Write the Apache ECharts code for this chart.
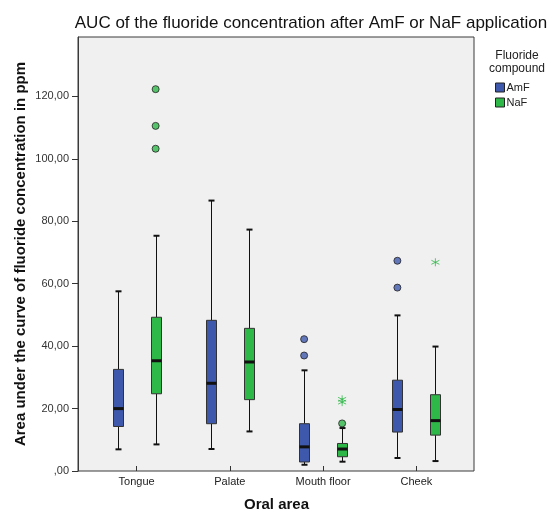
<!DOCTYPE html>
<html>
<head>
<meta charset="utf-8">
<script src="https://cdn.jsdelivr.net/npm/echarts@6/dist/echarts.min.js"></script>
<style>
  html, body { margin: 0; padding: 0; background: #fff; }
  #chart { width: 556px; height: 517px; }
</style>
</head>
<body>
<div id="chart"></div>
<script>
// oral areas on the x axis
const categories = ["Tongue", "Palate", "Mouth floor", "Cheek"];
const yTicks = [0, 20, 40, 60, 80, 100, 120];

// box stats per area: [lower whisker, Q1, median, Q3, upper whisker]
const amfBoxes = [
  [5.4, 12.8, 18.6, 31.3, 56.6],
  [5.5, 13.7, 26.8, 47.2, 86.0],
  [0.4, 1.3, 6.2, 13.7, 31.0],
  [2.6, 11.0, 18.3, 27.8, 48.8]
];
const nafBoxes = [
  [7.0, 23.4, 34.1, 48.2, 74.6],
  [11.2, 21.5, 33.7, 44.6, 76.6],
  [1.4, 3.0, 5.5, 7.3, 12.3],
  [1.6, 10.0, 14.7, 23.1, 38.7]
];

// outliers (circles) and extremes (stars): [area index, value]
const amfOutliers = [[2, 41.1], [2, 35.8], [3, 66.5], [3, 57.8]];
const nafOutliers = [[0, 122.1], [0, 110.2], [0, 102.8], [2, 13.8]];
const nafExtremes = [[2, 21.6], [2, 20.7], [3, 66.0]];

const AMF_COLOR = "#3e58ac";
const NAF_COLOR = "#2eb848";
const STAR = "path://M0,-5L0,5M-4.33,-2.5L4.33,2.5M-4.33,2.5L4.33,-2.5";

function boxSeries(name, boxes, color, offset) {
  return {
    name: name,
    type: "custom",
    xAxisIndex: 1,
    yAxisIndex: 1,
    itemStyle: { color: color },
    encode: { x: 0, y: [1, 2, 3, 4, 5] },
    data: boxes.map((b, i) => [i].concat(b)),
    renderItem: function (params, api) {
      const c = api.value(0);
      const pt = (v) => api.coord([c, v]);
      const x = Math.round(pt(0)[0] + offset) + 0.5;
      const lo = pt(api.value(1))[1];
      const q1 = pt(api.value(2))[1];
      const md = pt(api.value(3))[1];
      const q3 = pt(api.value(4))[1];
      const hi = pt(api.value(5))[1];
      const hw = 5, cw = 3;
      const line = (x1, y1, x2, y2, w) => ({
        type: "line",
        shape: { x1: x1, y1: y1, x2: x2, y2: y2 },
        style: { stroke: "#111", lineWidth: w }
      });
      return {
        type: "group",
        children: [
          line(x, hi, x, q3, 1),
          line(x, q1, x, lo, 1),
          line(x - cw, hi, x + cw, hi, 2),
          line(x - cw, lo, x + cw, lo, 2),
          {
            type: "rect",
            shape: { x: x - hw, y: q3, width: hw * 2, height: q1 - q3 },
            style: { fill: color, stroke: "#333", lineWidth: 1 }
          },
          line(x - hw, md, x + hw, md, 3)
        ]
      };
    }
  };
}

function pointSeries(name, data, color, offset, symbol, size, border) {
  return {
    name: name,
    type: "scatter",
    xAxisIndex: 1,
    yAxisIndex: 1,
    symbol: symbol,
    symbolSize: size,
    symbolOffset: [offset, 0],
    itemStyle: border
      ? { color: color, borderColor: "#222", borderWidth: 1 }
      : { color: "none", borderColor: color, borderWidth: 1 },
    data: data,
    z: 3
  };
}

const chart = echarts.init(document.getElementById("chart"));
chart.setOption({
  animation: false,
  textStyle: { fontFamily: "Liberation Sans, Arial, sans-serif" },
  title: [
    {
      text: "AUC of the fluoride concentration after AmF or NaF application",
      left: 306,
      top: 10,
      textAlign: "center",
      textStyle: { fontSize: 17, fontWeight: "normal", color: "#111" }
    },
    {
      text: "Fluoride\ncompound",
      left: 512,
      top: 44,
      textAlign: "center",
      textStyle: { fontSize: 12, fontWeight: "normal", color: "#222", lineHeight: 13 }
    }
  ],
  legend: {
    data: ["AmF", "NaF"],
    orient: "vertical",
    left: 490,
    top: 77,
    icon: "rect",
    itemWidth: 9,
    itemHeight: 9,
    itemGap: 4,
    itemStyle: { borderColor: "#222", borderWidth: 1 },
    textStyle: { fontSize: 11, color: "#222", padding: [0, 0, 0, -3] }
  },
  grid: [
    {
      left: 78, right: 82, top: 37, bottom: 46,
      show: true, backgroundColor: "#f0f0f0",
      borderColor: "#3a3a3a", borderWidth: 1
    },
    { left: 90, right: 93, top: 37, bottom: 46 }
  ],
  xAxis: [
    { type: "value", gridIndex: 0, show: false, min: 0, max: 1 },
    {
      type: "category",
      gridIndex: 1,
      data: categories,
      axisLine: { show: false },
      axisTick: { show: true, alignWithLabel: true, length: 5, lineStyle: { color: "#333" } },
      axisLabel: { fontSize: 11, color: "#222", margin: 10 },
      name: "Oral area",
      nameLocation: "middle",
      nameGap: 31,
      nameTextStyle: { fontSize: 15, fontWeight: "bold", color: "#111" }
    }
  ],
  yAxis: [
    {
      type: "value",
      gridIndex: 0,
      min: 0,
      max: 139,
      interval: 20,
      axisLine: { show: true, lineStyle: { color: "#3a3a3a" } },
      axisTick: { show: true, length: 6, customValues: yTicks, lineStyle: { color: "#333" } },
      axisLabel: {
        fontSize: 11,
        color: "#333",
        margin: 9,
        customValues: yTicks,
        formatter: (v) => (v === 0 ? ",00" : v.toFixed(2).replace(".", ","))
      },
      splitLine: { show: false },
      name: "Area under the curve of fluoride concentration in ppm",
      nameLocation: "middle",
      nameGap: 50,
      nameMoveOverlap: false,
      nameTextStyle: { fontSize: 15, fontWeight: "bold", color: "#111" }
    },
    { type: "value", gridIndex: 1, min: 0, max: 139, show: false }
  ],
  series: [
    boxSeries("AmF", amfBoxes, AMF_COLOR, -19),
    boxSeries("NaF", nafBoxes, NAF_COLOR, 19),
    pointSeries("AmF", amfOutliers, AMF_COLOR, -19, "circle", 7, true),
    pointSeries("NaF", nafOutliers, NAF_COLOR, 19, "circle", 7, true),
    pointSeries("NaF", nafExtremes, NAF_COLOR, 19, STAR, 8, false)
  ]
});
</script>
</body>
</html>
